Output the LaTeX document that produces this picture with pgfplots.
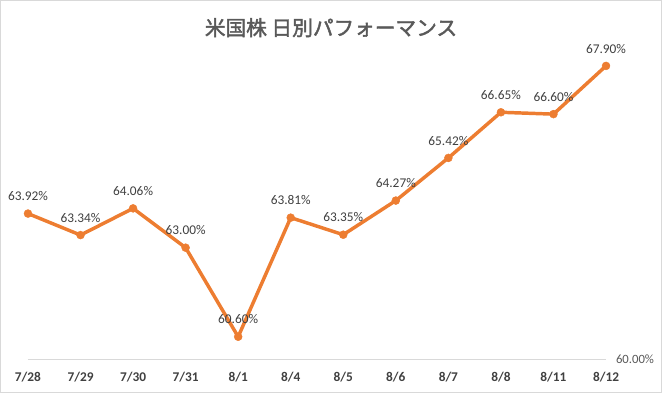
\documentclass[border=0pt]{standalone}
\usepackage{pgfplots}
\pgfplotsset{compat=1.18}
\usepackage{fontspec}
\setmainfont{Carlito}
\newfontfamily\jp[FakeBold=2]{Noto Sans CJK JP}
\definecolor{lineor}{HTML}{ED7D31}
\definecolor{lbl}{HTML}{404040}
\definecolor{axg}{HTML}{595959}
\definecolor{gridc}{HTML}{D9D9D9}
\begin{document}
\begin{tikzpicture}
\draw[gridc, line width=0.75pt] (0.4pt,0.4pt) rectangle (496.1pt,294.35pt);
\node[text=axg, font=\jp\fontsize{15.5}{18}\selectfont] at (248.25pt,274pt) {米国株 日別パフォーマンス};
\begin{axis}[
  at={(21pt,25.5pt)}, anchor=south west,
  scale only axis, width=433.5pt, height=236.5pt,
  xmin=0, xmax=11, ymin=60, ymax=68.5,
  axis x line*=bottom, axis y line*=right,
  y axis line style={draw=none},
  x axis line style={gridc, line width=0.75pt},
  xtick={0,...,11},
  xticklabels={7/28,7/29,7/30,7/31,8/1,8/4,8/5,8/6,8/7,8/8,8/11,8/12},
  xticklabel style={font=\fontsize{10}{12}\selectfont\bfseries, text=lbl, yshift=-6pt},
  ytick={60},
  yticklabel={\pgfmathprintnumber[fixed,fixed zerofill,precision=2]{\tick}\%},
  yticklabel style={font=\fontsize{9.5}{11}\selectfont, text=axg, xshift=4pt},
  /pgf/number format/assume math mode=true,
  major tick length=0pt,
  clip=false,
  nodes near coords={\pgfmathprintnumber[fixed,fixed zerofill,precision=2]{\pgfplotspointmeta}\%},
  point meta=y,
  nodes near coords style={font=\fontsize{10}{12}\selectfont, text=lbl, anchor=south, yshift=6pt},
]
\addplot[lineor, line width=2.6pt, mark=*, mark size=3pt, mark options={solid, fill=lineor, draw=lineor, line width=0.3pt}] coordinates {
(0,63.92) (1,63.34) (2,64.06) (3,63.00) (4,60.60) (5,63.81)
(6,63.35) (7,64.27) (8,65.42) (9,66.65) (10,66.60) (11,67.90)
};
\end{axis}
\end{tikzpicture}
\end{document}
